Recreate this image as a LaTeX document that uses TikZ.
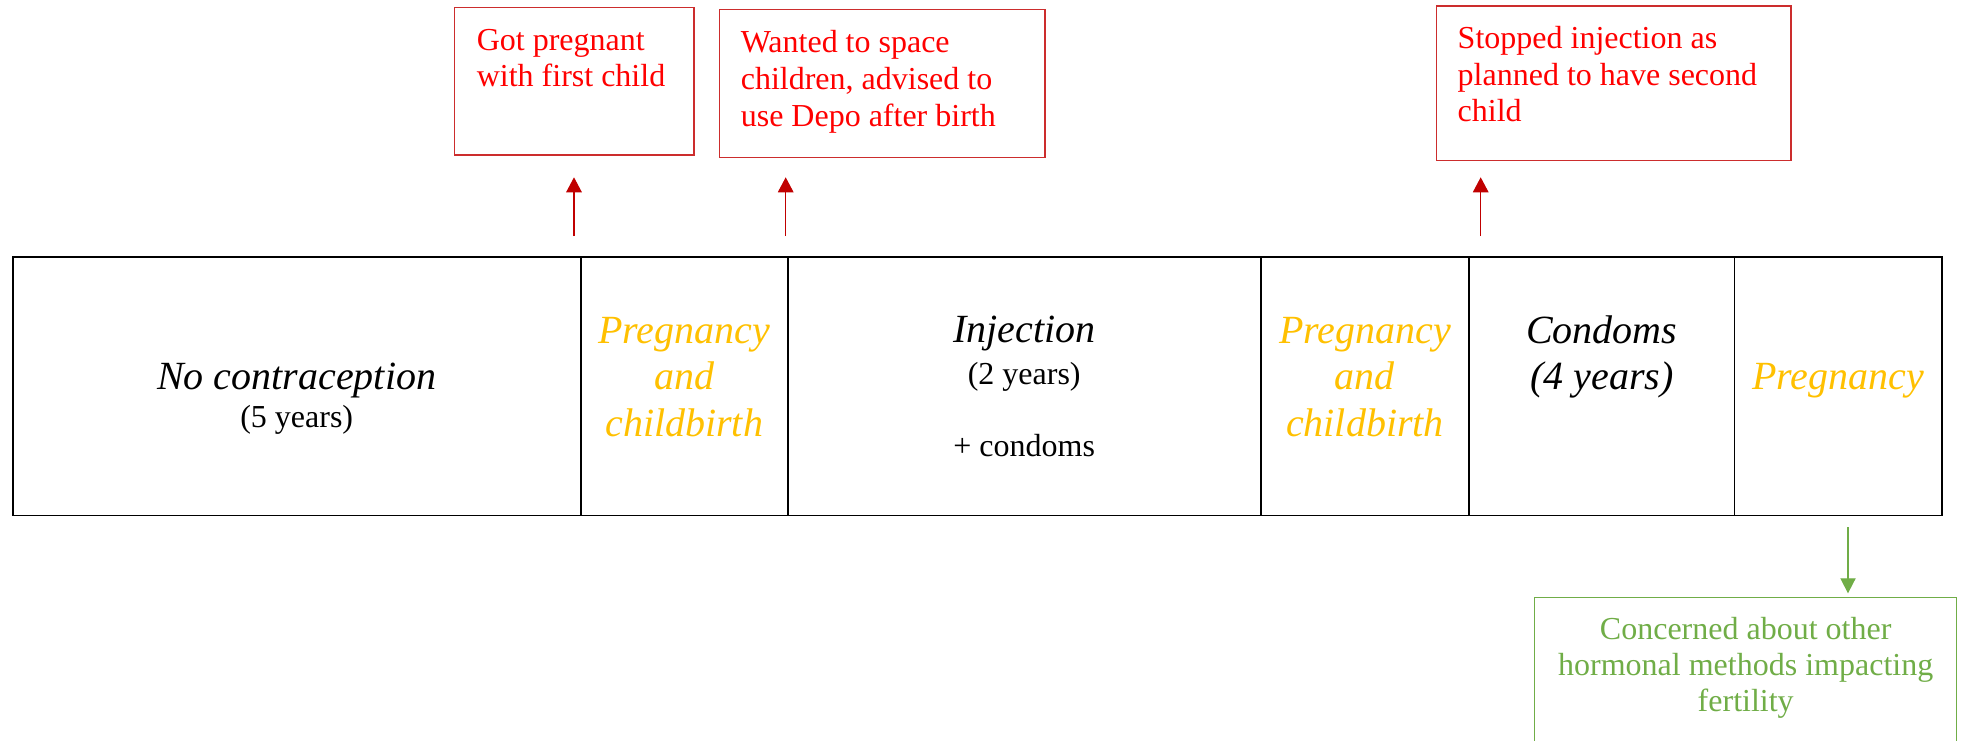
\documentclass[tikz,border=0pt]{standalone}
\usepackage{fontspec}
\setmainfont{Liberation Serif}
\usetikzlibrary{arrows.meta}
\definecolor{notered}{RGB}{255,0,0}
\definecolor{noteframe}{RGB}{204,45,45}
\definecolor{arrowred}{RGB}{192,0,0}
\definecolor{phasegold}{RGB}{255,192,0}
\definecolor{concerngreen}{RGB}{112,173,71}
\begin{document}
\begin{tikzpicture}[x=0.5pt,y=-0.5pt,
  cell/.style={draw=black, line width=0.85pt, minimum height=129.4pt,
    inner sep=0pt, outer sep=0pt, anchor=north west},
  phase/.style={font=\fontsize{20}{23}\selectfont\itshape, inner sep=0pt, anchor=base},
  span/.style={font=\fontsize{16}{19}\selectfont, inner sep=0pt, anchor=base},
  notebox/.style={draw=noteframe, line width=0.6pt, inner sep=0pt, outer sep=0pt,
    anchor=north west},
  notetext/.style={text=notered, font=\fontsize{16}{19}\selectfont, inner sep=0pt,
    anchor=base west},
  concernbox/.style={draw=concerngreen, line width=0.6pt, inner sep=0pt, outer sep=0pt,
    anchor=north west},
  concerntext/.style={text=concerngreen, font=\fontsize{16}{19}\selectfont, inner sep=0pt,
    anchor=base},
  redarrow/.style={draw=arrowred, line width=0.6pt,
    -{Triangle[width=7.8pt,length=7.5pt]}},
  greenarrow/.style={draw=concerngreen, line width=0.6pt,
    -{Triangle[width=7.6pt,length=7.5pt]}}
]
\useasboundingbox (0,0) rectangle (1961,740);
\clip (0,0) rectangle (1961,740);

% timeline cells
\node[cell, minimum width=284pt]   (c1) at (12.7,256.7) {};
\node[cell, minimum width=103.5pt] (c2) at (580.7,256.7) {};
\node[cell, minimum width=236.5pt] (c3) at (787.7,256.7) {};
\node[cell, minimum width=104.2pt] (c4) at (1260.7,256.7) {};
\node[cell, minimum width=132.7pt] (c5) at (1469.1,256.7) {};
\node[cell, minimum width=103.6pt] (c6) at (1734.5,256.7) {};

% cell texts
\node[phase] (c1a) at (296.7,389.5) {No contraception};
\node[span]  (c1b) at (296.7,427.5) {(5 years)};

\node[phase, text=phasegold] (c2a) at (684.2,343) {Pregnancy};
\node[phase, text=phasegold] (c2b) at (684.2,389.5) {and};
\node[phase, text=phasegold] (c2c) at (684.2,436) {childbirth};

\node[phase] (c3a) at (1024.2,342.5) {Injection};
\node[span]  (c3b) at (1024.2,384.2) {(2 years)};
\node[span]  (c3c) at (1024.2,456) {+ condoms};

\node[phase, text=phasegold] (c4a) at (1364.9,343) {Pregnancy};
\node[phase, text=phasegold] (c4b) at (1364.9,389.5) {and};
\node[phase, text=phasegold] (c4c) at (1364.9,436) {childbirth};

\node[phase] (c5a) at (1601.8,343) {Condoms};
\node[phase] (c5b) at (1601.8,389.5) {(4 years)};

\node[phase, text=phasegold] (c6a) at (1838.1,389.5) {Pregnancy};

% notes above the timeline
\node[notebox, minimum width=119.7pt, minimum height=73.85pt] (n1) at (454.6,7.3) {};
\node[notetext] (n1a) at (476.4,50.5) {Got pregnant};
\node[notetext] (n1b) at (476.4,86.5) {with first child};

\node[notebox, minimum width=162.6pt, minimum height=74pt] (n2) at (719.8,9.3) {};
\node[notetext] (n2a) at (740.4,52.3) {Wanted to space};
\node[notetext] (n2b) at (740.4,89.2) {children, advised to};
\node[notetext] (n2c) at (740.4,126) {use Depo after birth};

\node[notebox, minimum width=177.15pt, minimum height=77.35pt] (n3) at (1436.7,6) {};
\node[notetext] (n3a) at (1457.3,48.3) {Stopped injection as};
\node[notetext] (n3b) at (1457.3,85) {planned to have second};
\node[notetext] (n3c) at (1457.3,121.7) {child};

% note below the timeline
\node[concernbox, minimum width=211pt, minimum height=120pt] (g) at (1534.7,597.3) {};
\node[concerntext] (ga) at (1745.7,639.5) {Concerned about other};
\node[concerntext] (gb) at (1745.7,675.5) {hormonal methods impacting};
\node[concerntext] (gc) at (1745.7,711.5) {fertility};

% arrows
\coordinate (a1s) at (574,236);    \coordinate (a1e) at (574,177.3);
\coordinate (a2s) at (785.7,236);  \coordinate (a2e) at (785.7,177.3);
\coordinate (a3s) at (1480.7,236); \coordinate (a3e) at (1480.7,177.3);
\coordinate (g1s) at (1848,527);   \coordinate (g1e) at (1848,593.3);
\draw[redarrow] (a1s) -- (a1e);
\draw[redarrow] (a2s) -- (a2e);
\draw[redarrow] (a3s) -- (a3e);
\draw[greenarrow] (g1s) -- (g1e);
\end{tikzpicture}
\end{document}
